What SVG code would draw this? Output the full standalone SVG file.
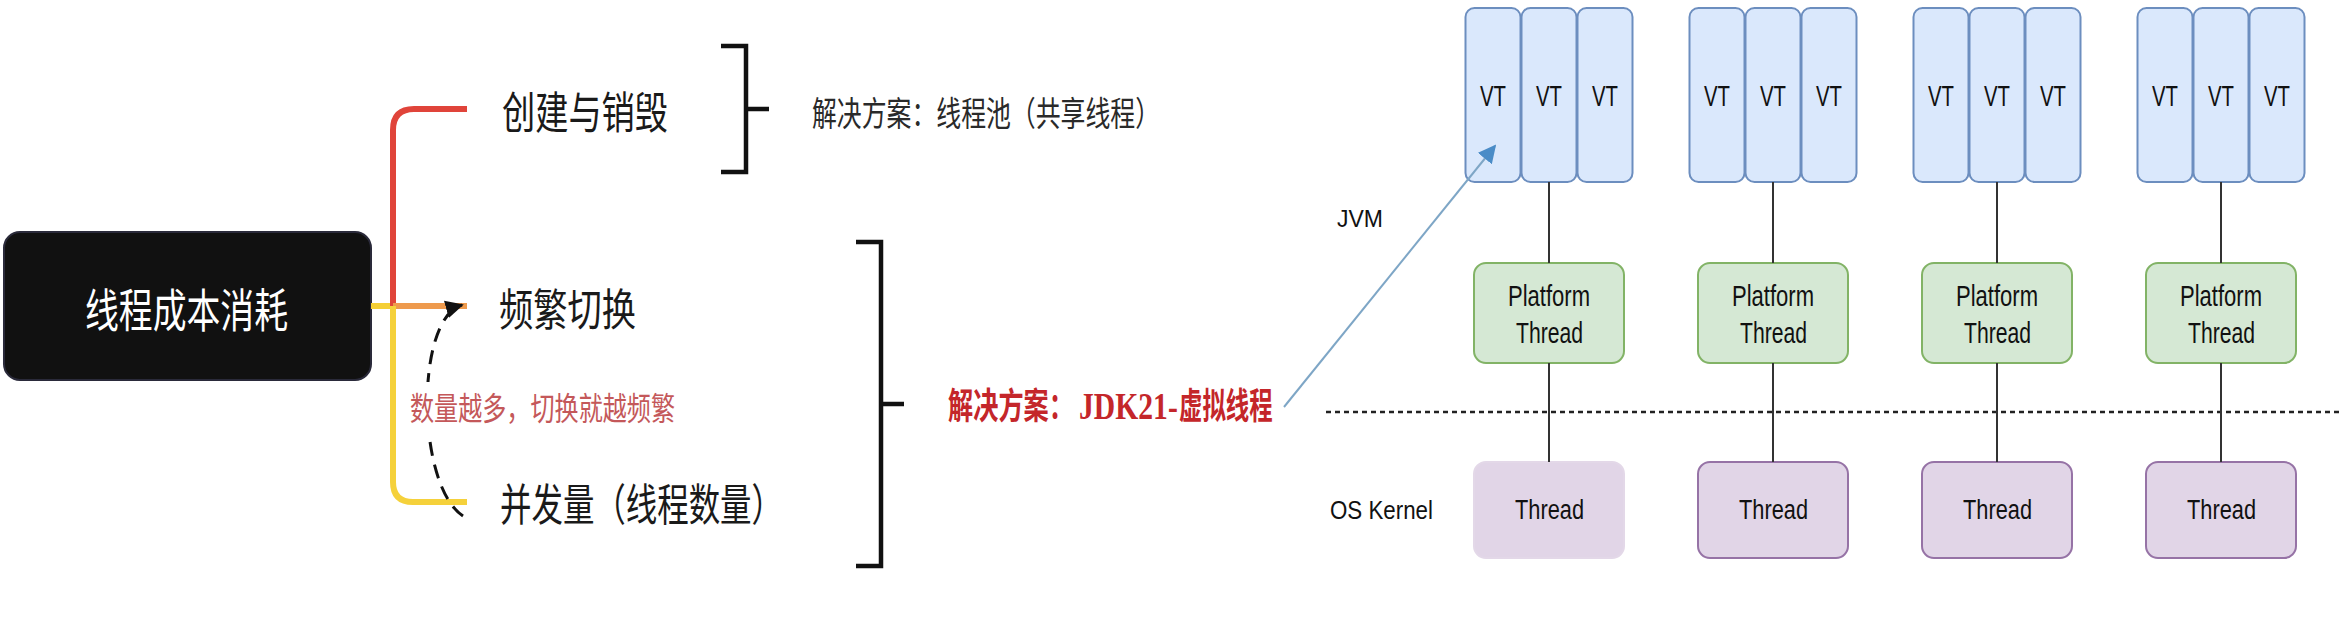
<svg xmlns="http://www.w3.org/2000/svg" width="2340" height="644" viewBox="0 0 2340 644">
<defs>
<style>
.cjk{font-family:"Noto Sans CJK SC","Noto Sans",sans-serif;}
.lat{font-family:"Liberation Sans",Arial,sans-serif;fill:#111;}
.ser{font-family:"Liberation Serif","Times New Roman",serif;}
.vt{fill:#dae8fc;stroke:#6c8ebf;stroke-width:2;}
.pt{fill:#d5e8d4;stroke:#82b366;stroke-width:2;}
.ot{fill:#e1d5e7;stroke:#9673a6;stroke-width:2;}
.link{stroke:#333;stroke-width:2;fill:none;}
.br{stroke:#111;stroke-width:4.5;fill:none;}
.sol{font-weight:bold;fill:#c4262a;}
</style>
<marker id="ah" viewBox="0 0 10 10" refX="9" refY="5" markerWidth="6" markerHeight="6" orient="auto" markerUnits="strokeWidth">
<path d="M0,0 L10,5 L0,10 z" fill="#111"/>
</marker>
<marker id="bh" viewBox="0 0 10 10" refX="9" refY="5" markerWidth="9" markerHeight="9" orient="auto" markerUnits="strokeWidth">
<path d="M0,0 L10,5 L0,10 z" fill="#4a8cc7"/>
</marker>
</defs>
<rect width="2340" height="644" fill="#fff"/>

<g id="root">
<rect x="4" y="232" width="367" height="148" rx="16" fill="#111" stroke="#2a2a3a" stroke-width="2"/>
<text class="cjk" x="85" y="327" font-size="46" fill="#fff" textLength="203" lengthAdjust="spacingAndGlyphs">线程成本消耗</text>
</g>
<g id="create">
<text class="cjk" x="502" y="129" font-size="44" fill="#1a1a1a" textLength="166" lengthAdjust="spacingAndGlyphs">创建与销毁</text>
</g>
<g id="switch">
<text class="cjk" x="499" y="326" font-size="44" fill="#1a1a1a" textLength="137" lengthAdjust="spacingAndGlyphs">频繁切换</text>
</g>
<g id="concurrency">
<text class="cjk" x="500" y="521" font-size="44" fill="#1a1a1a" textLength="283" lengthAdjust="spacingAndGlyphs">并发量（线程数量）</text>
</g>
<g id="solution1">
<text class="cjk" x="812" y="126" font-size="34" fill="#2a2a2a" textLength="348" lengthAdjust="spacingAndGlyphs">解决方案：线程池（共享线程）</text>
</g>
<g id="solution2">
<text class="cjk sol" transform="translate(948 419) scale(0.7 1)" font-size="36">解决方案：</text>
<text class="ser sol" transform="translate(1079 419) scale(0.78 1)" font-size="38">JDK21-</text>
<text class="cjk sol" transform="translate(1179 419) scale(0.65 1)" font-size="36">虚拟线程</text>
</g>

<g id="labels">
<text class="lat" x="1337" y="227" font-size="24" textLength="46" lengthAdjust="spacingAndGlyphs">JVM</text>
<text class="lat" x="1330" y="519" font-size="26" textLength="103" lengthAdjust="spacingAndGlyphs">OS Kernel</text>
</g>

<g id="vt1">
<rect class="vt" x="1465.5" y="8" width="55" height="174" rx="9"/>
<rect class="vt" x="1521.5" y="8" width="55" height="174" rx="9"/>
<rect class="vt" x="1577.5" y="8" width="55" height="174" rx="9"/>
<text class="lat" x="1480" y="106" font-size="29" textLength="26" lengthAdjust="spacingAndGlyphs">VT</text>
<text class="lat" x="1536" y="106" font-size="29" textLength="26" lengthAdjust="spacingAndGlyphs">VT</text>
<text class="lat" x="1592" y="106" font-size="29" textLength="26" lengthAdjust="spacingAndGlyphs">VT</text>
</g>
<g id="vt2">
<rect class="vt" x="1689.5" y="8" width="55" height="174" rx="9"/>
<rect class="vt" x="1745.5" y="8" width="55" height="174" rx="9"/>
<rect class="vt" x="1801.5" y="8" width="55" height="174" rx="9"/>
<text class="lat" x="1704" y="106" font-size="29" textLength="26" lengthAdjust="spacingAndGlyphs">VT</text>
<text class="lat" x="1760" y="106" font-size="29" textLength="26" lengthAdjust="spacingAndGlyphs">VT</text>
<text class="lat" x="1816" y="106" font-size="29" textLength="26" lengthAdjust="spacingAndGlyphs">VT</text>
</g>
<g id="vt3">
<rect class="vt" x="1913.5" y="8" width="55" height="174" rx="9"/>
<rect class="vt" x="1969.5" y="8" width="55" height="174" rx="9"/>
<rect class="vt" x="2025.5" y="8" width="55" height="174" rx="9"/>
<text class="lat" x="1928" y="106" font-size="29" textLength="26" lengthAdjust="spacingAndGlyphs">VT</text>
<text class="lat" x="1984" y="106" font-size="29" textLength="26" lengthAdjust="spacingAndGlyphs">VT</text>
<text class="lat" x="2040" y="106" font-size="29" textLength="26" lengthAdjust="spacingAndGlyphs">VT</text>
</g>
<g id="vt4">
<rect class="vt" x="2137.5" y="8" width="55" height="174" rx="9"/>
<rect class="vt" x="2193.5" y="8" width="55" height="174" rx="9"/>
<rect class="vt" x="2249.5" y="8" width="55" height="174" rx="9"/>
<text class="lat" x="2152" y="106" font-size="29" textLength="26" lengthAdjust="spacingAndGlyphs">VT</text>
<text class="lat" x="2208" y="106" font-size="29" textLength="26" lengthAdjust="spacingAndGlyphs">VT</text>
<text class="lat" x="2264" y="106" font-size="29" textLength="26" lengthAdjust="spacingAndGlyphs">VT</text>
</g>

<g id="pt1">
<rect class="pt" x="1474" y="263" width="150" height="100" rx="12"/>
<text class="lat" x="1508" y="306" font-size="29" textLength="82" lengthAdjust="spacingAndGlyphs">Platform</text>
<text class="lat" x="1516" y="343" font-size="29" textLength="67" lengthAdjust="spacingAndGlyphs">Thread</text>
</g>
<g id="pt2">
<rect class="pt" x="1698" y="263" width="150" height="100" rx="12"/>
<text class="lat" x="1732" y="306" font-size="29" textLength="82" lengthAdjust="spacingAndGlyphs">Platform</text>
<text class="lat" x="1740" y="343" font-size="29" textLength="67" lengthAdjust="spacingAndGlyphs">Thread</text>
</g>
<g id="pt3">
<rect class="pt" x="1922" y="263" width="150" height="100" rx="12"/>
<text class="lat" x="1956" y="306" font-size="29" textLength="82" lengthAdjust="spacingAndGlyphs">Platform</text>
<text class="lat" x="1964" y="343" font-size="29" textLength="67" lengthAdjust="spacingAndGlyphs">Thread</text>
</g>
<g id="pt4">
<rect class="pt" x="2146" y="263" width="150" height="100" rx="12"/>
<text class="lat" x="2180" y="306" font-size="29" textLength="82" lengthAdjust="spacingAndGlyphs">Platform</text>
<text class="lat" x="2188" y="343" font-size="29" textLength="67" lengthAdjust="spacingAndGlyphs">Thread</text>
</g>

<g id="ot1">
<rect class="ot" x="1474" y="462" width="150" height="96" rx="12" style="stroke:#e3d8e8"/>
<text class="lat" x="1515" y="519" font-size="27" textLength="69" lengthAdjust="spacingAndGlyphs">Thread</text>
</g>
<g id="ot2">
<rect class="ot" x="1698" y="462" width="150" height="96" rx="12"/>
<text class="lat" x="1739" y="519" font-size="27" textLength="69" lengthAdjust="spacingAndGlyphs">Thread</text>
</g>
<g id="ot3">
<rect class="ot" x="1922" y="462" width="150" height="96" rx="12"/>
<text class="lat" x="1963" y="519" font-size="27" textLength="69" lengthAdjust="spacingAndGlyphs">Thread</text>
</g>
<g id="ot4">
<rect class="ot" x="2146" y="462" width="150" height="96" rx="12"/>
<text class="lat" x="2187" y="519" font-size="27" textLength="69" lengthAdjust="spacingAndGlyphs">Thread</text>
</g>

<g id="connectors">
<path d="M371 306 H395" stroke="#f5cf35" stroke-width="6" fill="none"/>
<path d="M393 306 V130 Q393 109 414 109 H467" stroke="#e0443a" stroke-width="6" fill="none"/>
<path d="M393 306 H467" stroke="#ee9a4d" stroke-width="6" fill="none"/>
<path d="M393 306 V482 Q393 502 413 502 H467" stroke="#f5d13b" stroke-width="6" fill="none"/>
<path d="M463 516 C416 485 415 318 462 305" stroke="#111" stroke-width="3" fill="none" stroke-dasharray="14 9" marker-end="url(#ah)"/>
<path class="br" d="M721 46 H746 V172 H721 M746 109 H769"/>
<path class="br" d="M856 242 H881 V566 H856 M881 404 H904"/>
<path d="M1284 407 L1495 146" stroke="#7ea6c6" stroke-width="2" fill="none" marker-end="url(#bh)"/>
<path d="M1326 412 H2340" stroke="#222" stroke-width="2.5" stroke-dasharray="5 4" fill="none"/>
<path class="link" d="M1549 182 V263 M1549 363 V462 M1773 182 V263 M1773 363 V462 M1997 182 V263 M1997 363 V462 M2221 182 V263 M2221 363 V462"/>
</g>

<g id="note">
<rect x="405" y="382" width="275" height="54" fill="#fff"/>
<text class="cjk" x="410" y="420" font-size="32" fill="#c4585a" textLength="265" lengthAdjust="spacingAndGlyphs">数量越多，切换就越频繁</text>
</g>
</svg>
